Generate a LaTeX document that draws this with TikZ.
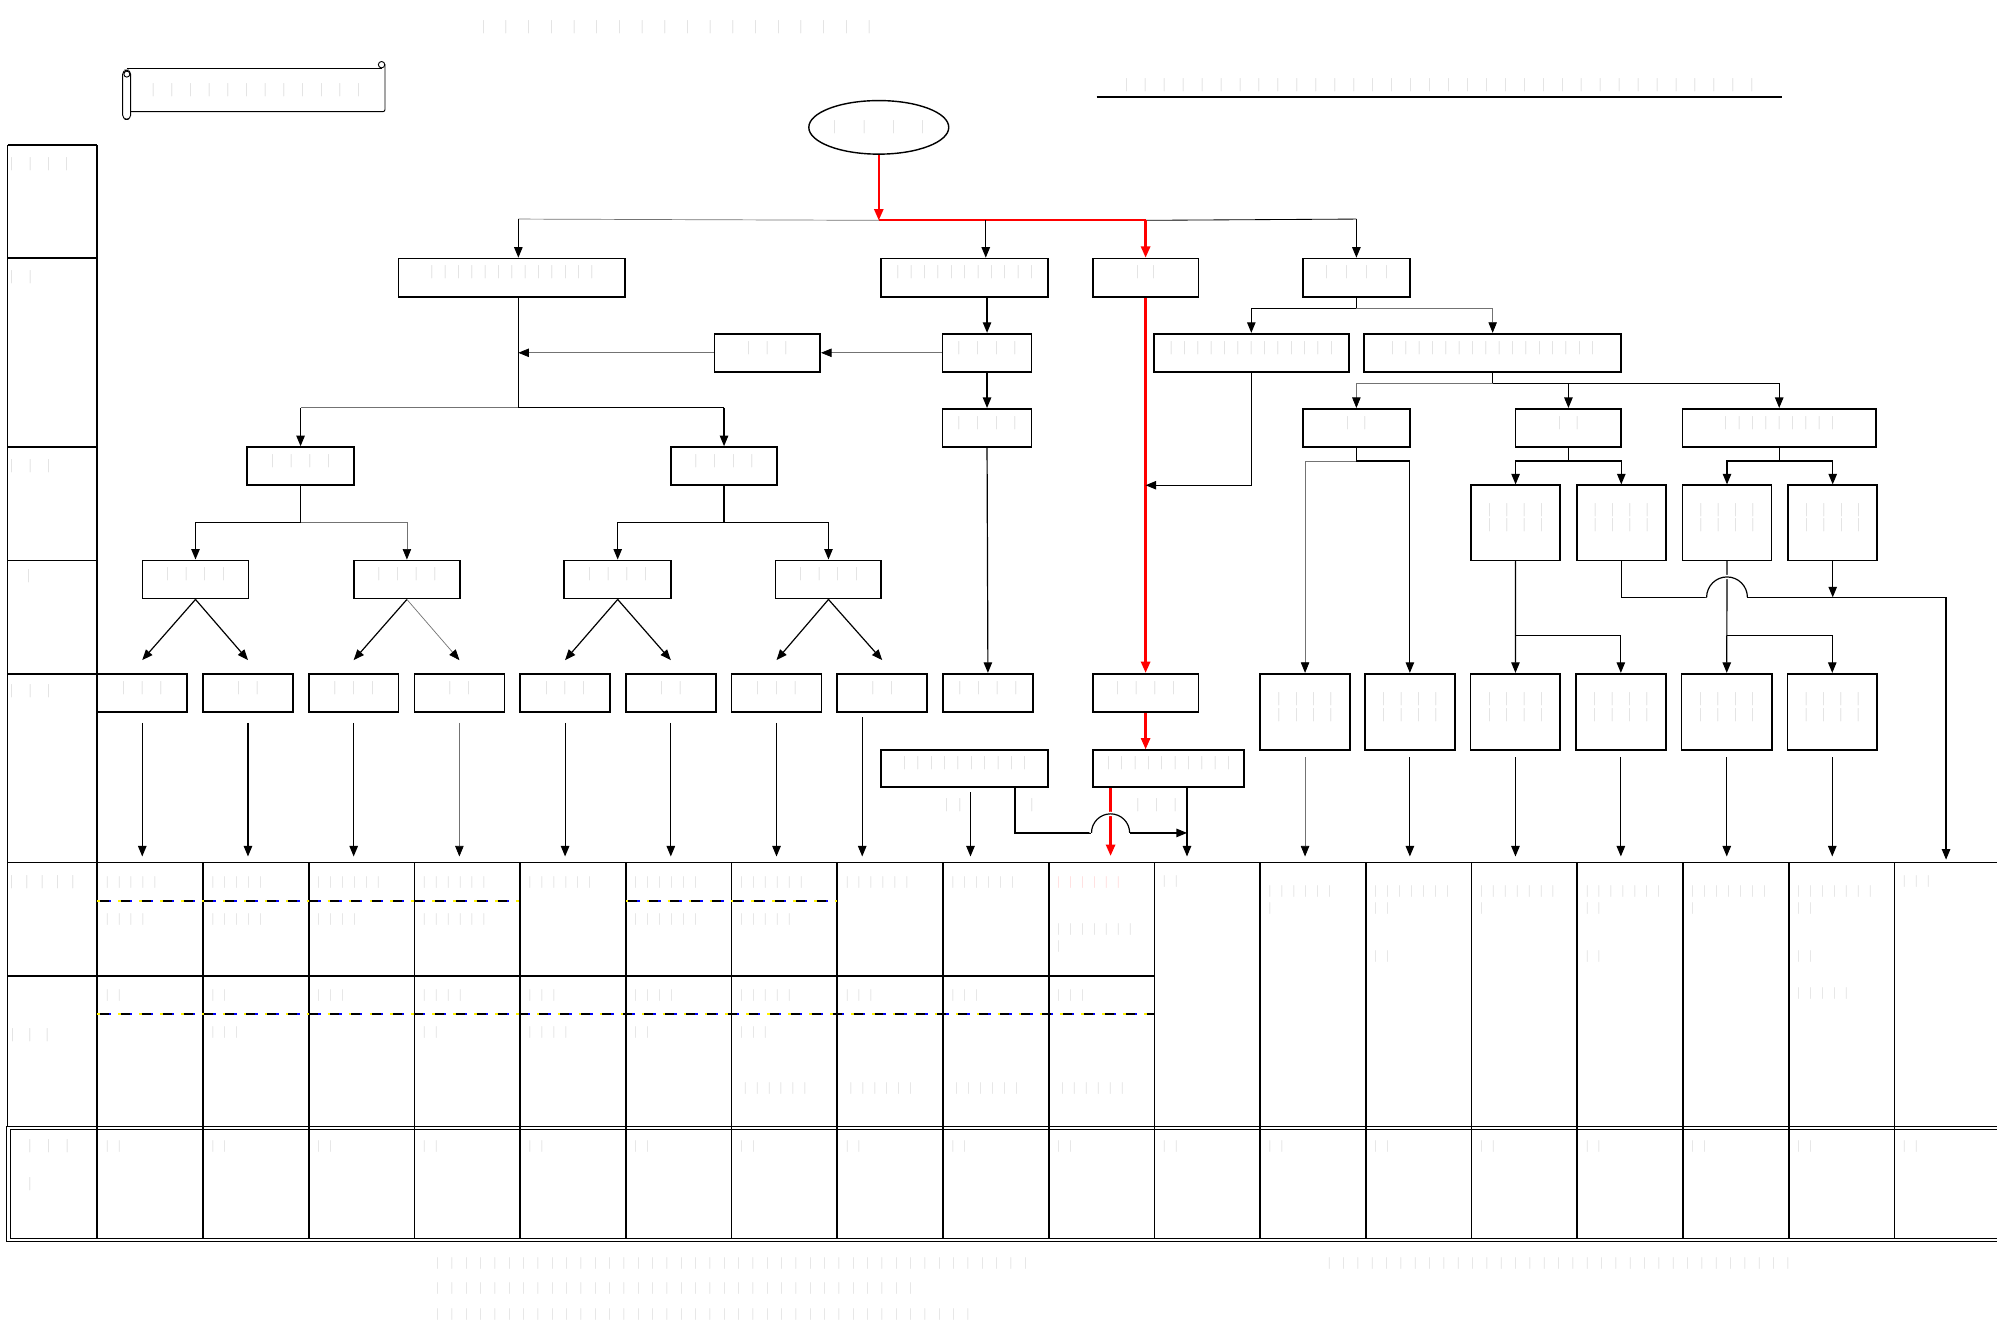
\documentclass[tikz,border=0pt]{standalone}
\usepackage{fontspec}
\usetikzlibrary{arrows.meta,fit,calc,shapes.geometric}
\newcommand\tx[2][1em]{\foreach \kk in {1,...,#2}{\makebox[#1]{|}}}
\definecolor{faint}{gray}{0.8}
\newcommand\bx[6]{\node[box, fit={(#2,#3) (#4,#5)}] (#1) {#6};}
\newcommand\ct[4]{\node[ct] (#1) at (#2,#3) {\tx{#4}};}
\newcommand\tridash[2]{\draw[ydash] #1 -- #2; \draw[bdash] #1 -- #2; \draw[kdash] #1 -- #2;}
\begin{document}
\begin{tikzpicture}[x=0.0637cm,y=-0.0637cm,
  every node/.style={text=faint, font=\fontsize{19}{22}\selectfont},
  box/.style={draw=black, line width=2.4pt, inner sep=0pt, align=center},
  tip/.style={-{Triangle[length=15pt,width=12pt,color=black]}},
  ln/.style={line width=1.7pt},
  gln/.style={line width=1pt, draw=black!55},
  arr/.style={ln, tip},
  garr/.style={gln, tip},
  rln/.style={line width=3.2pt, draw=red},
  rarr/.style={rln, -{Triangle[length=16pt,width=13pt]}},
  grid/.style={line width=2.4pt},
  ct/.style={anchor=west, inner sep=0pt, font=\fontsize{17}{20}\selectfont},
  lt/.style={anchor=west, inner sep=0pt},
  ydash/.style={line width=2.8pt, draw=yellow, dash pattern=on 3.5pt off 26.3pt},
  kdash/.style={line width=2.8pt, draw=black, dash pattern=on 12.8pt off 17pt, dash phase=26.3pt},
  bdash/.style={line width=2.8pt, draw=blue, dash pattern=on 3.5pt off 26.3pt, dash phase=13.5pt},
]
\fill[white] (0,0) rectangle (1568,1047);
\useasboundingbox (0,0) rectangle (1568,1047);

% ---------- header ----------
\node (title) at (531,21) {\tx[1.7em]{18}};
\node (topnote) at (1130,67) {\tx[1.42em]{34}};
\draw[line width=2.8pt] (861,76) -- (1399,76);

% scroll
\draw[line width=1.3pt, rounded corners=2pt] (99.5,53.6) -- (299.6,53.6);
\draw[line width=1.3pt, rounded corners=3pt] (302.3,50.6) -- (302.3,87.7) -- (102.6,87.7);
\draw[line width=1.3pt, rounded corners=6pt, fill=white] (96.3,55) rectangle (102.6,93.7);
\draw[line width=1.3pt] (99.6,58.2) circle[radius=0.15cm];
\draw[line width=1.3pt] (299.6,50.8) circle[radius=0.16cm];
\node (scrolltxt) at (201,71) {\tx[1.4em]{12}};

% root ellipse
\node[draw=black, ellipse, line width=2pt, minimum width=7.0cm, minimum height=2.68cm, inner sep=0pt] (root) at (690,100) {\makebox[0pt]{\tx[2.2em]{4}}};

% ---------- label column and table grid ----------
\draw[grid] (6,114) -- (76.4,114);
\draw[grid] (6,114) -- (6,884.2);
\draw[grid] (76.4,114) -- (76.4,972.3);
\foreach \yy in {202.8,351,440,529} {\draw[grid] (6,\yy) -- (76.4,\yy);}
\draw[grid] (6,677.3) -- (1568,677.3);
\draw[grid] (6,766.4) -- (906.4,766.4);
\foreach \k in {1,...,17} {\draw[grid] ({76.4+83*\k},677.3) -- ({76.4+83*\k},972.3);}
\draw[line width=1.5pt] (5.3,884.2) rectangle (1580,975);
\draw[line width=1.5pt] (7.9,886.9) rectangle (1580,972.3);
\tridash{(76.4,707.5)}{(408.4,707.5)}
\tridash{(491.4,707.5)}{(657.4,707.5)}
\tridash{(76.4,796.4)}{(906.4,796.4)}

% ---------- boxes ----------
\bx{B1}{313}{203}{491}{233}{\tx{13}}
\bx{B2}{692}{203}{823}{233}{\tx{11}}
\bx{B3}{858}{203}{941}{233}{\tx[1.2em]{2}}
\bx{B4}{1023}{203}{1107}{233}{\tx[1.5em]{4}}
\bx{C1}{561}{262}{644}{292}{\tx[1.4em]{3}}
\bx{C2}{740}{262}{810}{292}{\tx[1.4em]{4}}
\bx{C3}{906}{262}{1059}{292}{\tx{13}}
\bx{C4}{1071}{262}{1273}{292}{\tx{16}}
\bx{D1}{740}{321}{810}{351}{\tx[1.4em]{4}}
\bx{F1}{1023}{321}{1107}{351}{\tx[1.3em]{2}}
\bx{F2}{1190}{321}{1273}{351}{\tx[1.3em]{2}}
\bx{F3}{1321}{321}{1473}{351}{\tx{9}}
\bx{E1}{194}{351}{278}{381}{\tx[1.4em]{4}}
\bx{E2}{527}{351}{610}{381}{\tx[1.4em]{4}}
\bx{I1}{1155}{381}{1225}{440}{\tx[1.3em]{4}\\\tx[1.3em]{4}}
\bx{I2}{1238}{381}{1308}{440}{\tx[1.3em]{4}\\\tx[1.3em]{4}}
\bx{I3}{1321}{381}{1391}{440}{\tx[1.3em]{4}\\\tx[1.3em]{4}}
\bx{I4}{1404}{381}{1474}{440}{\tx[1.3em]{4}\\\tx[1.3em]{4}}
\bx{H1}{112}{440}{195}{470}{\tx[1.4em]{4}}
\bx{H2}{278}{440}{361}{470}{\tx[1.4em]{4}}
\bx{H3}{443}{440}{527}{470}{\tx[1.4em]{4}}
\bx{H4}{609}{440}{692}{470}{\tx[1.4em]{4}}
\bx{J1}{76.4}{529}{147}{559}{\tx[1.4em]{3}}
\bx{J2}{159.4}{529}{230}{559}{\tx[1.4em]{2}}
\bx{J3}{242.4}{529}{313}{559}{\tx[1.4em]{3}}
\bx{J4}{325.4}{529}{396}{559}{\tx[1.4em]{2}}
\bx{J5}{408.4}{529}{479}{559}{\tx[1.4em]{3}}
\bx{J6}{491.4}{529}{562}{559}{\tx[1.4em]{2}}
\bx{J7}{574.4}{529}{645}{559}{\tx[1.4em]{3}}
\bx{J8}{657.4}{529}{728}{559}{\tx[1.4em]{2}}
\bx{J9}{740.4}{529}{811}{559}{\tx[1.4em]{4}}
\bx{J10}{858}{529}{941}{559}{\tx[1.4em]{4}}
\bx{K1}{989.4}{529}{1060}{589}{\tx[1.3em]{4}\\\tx[1.3em]{4}}
\bx{K2}{1071.5}{529}{1142.5}{589}{\tx[1.3em]{4}\\\tx[1.3em]{4}}
\bx{K3}{1154.7}{529}{1225.1}{589}{\tx[1.3em]{4}\\\tx[1.3em]{4}}
\bx{K4}{1237.3}{529}{1308}{589}{\tx[1.3em]{4}\\\tx[1.3em]{4}}
\bx{K5}{1320.3}{529}{1391.3}{589}{\tx[1.3em]{4}\\\tx[1.3em]{4}}
\bx{K6}{1403.5}{529}{1473.8}{589}{\tx[1.3em]{4}\\\tx[1.3em]{4}}
\bx{L1}{692}{589}{823}{618}{\tx{10}}
\bx{L2}{858}{589}{977}{618}{\tx{10}}

% ---------- connectors: top ----------
\coordinate (j0) at (690,173);
\coordinate (jl) at (407,172);
\coordinate (jm) at (774,173);
\coordinate (jr) at (899.5,173);
\coordinate (jrr) at (1065,172);
\coordinate (tt) at (0,672.5);
\draw[gln] (j0) -- (jl);
\draw[arr] (jl) -- (jl |- B1.north);
\draw[rln] (j0) -- (jr);
\draw[arr] (jm) -- (jm |- B2.north);
\draw[line width=1.2pt] (jr) -- (jrr);
\draw[arr] (jrr) -- (jrr |- B4.north);
\draw[rarr] (root.south) -- (j0);
\draw[rarr] (jr) -- (B3.north);

% B1 / B2 branch
\draw[arr] (C2.north |- B2.south) -- (C2.north);
\draw[garr] (C2.west) -- (C1.east);
\coordinate (v1) at (407,320);
\draw[ln] (jl |- B1.south) -- (v1);
\draw[garr] (C1.west) -- (C1.west -| v1);
\draw[gln] (v1) -- (v1 -| E1.north);
\draw[ln] (v1) -- (v1 -| E2.north);
\draw[arr] (v1 -| E1.north) -- (E1.north);
\draw[arr] (v1 -| E2.north) -- (E2.north);
\draw[arr] (C2.south) -- (D1.north);
\draw[arr] (D1.south) -- (J9.north);

% red spine
\draw[rarr] (B3.south) -- (J10.north);
\draw[rarr] (J10.south) -- (J10.south |- L2.north);
\draw[arr] (C3.south) |- (B3.south |- 0,381);

% B4 branch
\coordinate (b4j) at (1065,242);
\draw[ln] (B4.south) -- (b4j);
\draw[arr] (b4j) -| (C3.north);
\draw[garr] (b4j) -| (C4.north);
\coordinate (c4j) at (1172,301);
\draw[ln] (C4.south) -- (c4j);
\draw[garr] (c4j) -| (F1.north);
\draw[arr] (c4j) -| (F2.north);
\draw[arr] (c4j) -| (F3.north);
\coordinate (f1j) at (1065,362);
\draw[ln] (F1.south) -- (f1j);
\draw[garr] (f1j) -| (K1.north);
\draw[arr] (f1j) -| (K2.north);
\coordinate (f2j) at (1231.5,362);
\draw[ln] (F2.south) -- (f2j);
\draw[arr] (f2j) -| (I1.north);
\draw[arr] (f2j) -| (I2.north);
\coordinate (f3j) at (1397,362);
\draw[ln] (F3.south) -- (f3j);
\draw[arr] (f3j) -| (I3.north);
\draw[arr] (f3j) -| (I4.north);

% E branches
\coordinate (e1j) at (236,410);
\draw[ln] (E1.south) -- (e1j);
\draw[arr] (e1j) -| (H1.north);
\draw[garr] (e1j) -| (H2.north);
\coordinate (e2j) at (568.5,410);
\draw[ln] (E2.south) -- (e2j);
\draw[arr] (e2j) -| (H3.north);
\draw[arr] (e2j) -| (H4.north);

% H diagonals
\draw[arr] (H1.south) -- ([yshift=0.64cm]J1.north);
\draw[arr] (H1.south) -- ([yshift=0.64cm]J2.north);
\draw[arr] (H2.south) -- ([yshift=0.64cm]J3.north);
\draw[garr] (H2.south) -- ([yshift=0.64cm]J4.north);
\draw[arr] (H3.south) -- ([yshift=0.64cm]J5.north);
\draw[arr] (H3.south) -- ([yshift=0.64cm]J6.north);
\draw[arr] (H4.south) -- ([yshift=0.64cm]J7.north);
\draw[arr] (H4.south) -- ([yshift=0.64cm]J8.north);

% I -> K
\draw[arr] (I1.south) -- (K3.north);
\coordinate (i1j) at (1190,499);
\draw[arr] (i1j) -| (K4.north);
\draw[arr] (I3.south) -- (K5.north);
\coordinate (i3j) at (1356,499);
\draw[arr] (i3j) -| (K6.north);
\coordinate (br1) at (1340,469);
\coordinate (br2) at (1372,469);
\coordinate (lg) at (1528,469);
\coordinate (lgb) at (1528,675);
\draw[ln] (I2.south) |- (br1);
\draw[white, line width=6pt] (br1) arc[start angle=180, end angle=0, radius=1.02cm];
\draw[ln] (br1) arc[start angle=180, end angle=0, radius=1.02cm];
\draw[ln] (br2) -- (lg);
\draw[arr] (lg) -- (lgb);
\draw[arr] (I4.south) -- (I4.south |- br2);

% L1 / L2
\coordinate (l1a) at (797,654);
\coordinate (lb1) at (857,654);
\coordinate (lb2) at (887,654);
\coordinate (l2r) at (932,654);
\coordinate (rx) at (872,672);
\draw[rarr] (L2.south -| rx) -- (rx);
\draw[ln] (L1.south -| l1a) -- (l1a) -- (lb1);
\draw[white, line width=6pt] (lb1) arc[start angle=180, end angle=0, radius=0.955cm];
\draw[ln] (lb1) arc[start angle=180, end angle=0, radius=0.955cm];
\draw[arr] (lb2) -- (l2r);
\draw[arr] (L2.south -| l2r) -- (l2r |- tt);
\coordinate (l1o) at (762,622);
\draw[arr] (l1o) -- (l1o |- tt);
\node[lt] (l1note) at (738,632) {\tx[1.0em]{2}};
\node[lt] (l1note2) at (805,632) {\tx{1}};
\node[lt] (l2note) at (886,632) {\tx[1.4em]{3}};

% into table
\draw[arr] ([yshift=-0.5cm]J1.south) -- (J1.south |- tt);
\draw[arr] ([yshift=-0.5cm]J2.south) -- (J2.south |- tt);
\draw[arr] ([yshift=-0.5cm]J3.south) -- (J3.south |- tt);
\draw[garr] ([yshift=-0.5cm]J4.south) -- (J4.south |- tt);
\draw[arr] ([yshift=-0.5cm]J5.south) -- (J5.south |- tt);
\draw[arr] ([yshift=-0.5cm]J6.south) -- (J6.south |- tt);
\draw[arr] ([yshift=-0.5cm]J7.south) -- (J7.south |- tt);
\coordinate (j8o) at (677,563);
\draw[arr] (j8o) -- (j8o |- tt);
\draw[garr] ([yshift=-0.32cm]K1.south) -- (K1.south |- tt);
\draw[arr] ([yshift=-0.32cm]K2.south) -- (K2.south |- tt);
\draw[arr] ([yshift=-0.32cm]K3.south) -- (K3.south |- tt);
\draw[arr] ([yshift=-0.32cm]K4.south) -- (K4.south |- tt);
\draw[arr] ([yshift=-0.32cm]K5.south) -- (K5.south |- tt);
\draw[arr] ([yshift=-0.32cm]K6.south) -- (K6.south |- tt);

% ---------- label column texts ----------
\node[lt] (r1) at (2,129) {\tx[1.37em]{4}};
\node[lt] (r2) at (2,218) {\tx[1.37em]{2}};
\node[lt] (r3) at (2,366) {\tx[1.37em]{3}};
\node[lt] (r4) at (15,452) {\tx[1.37em]{1}};
\node[lt] (r5) at (2,543) {\tx[1.37em]{3}};
\node[lt] (r6) at (3,693) {\tx[1.15em]{5}};
\node[lt] (r7) at (3,813) {\tx[1.3em]{3}};
\node[lt] (r8) at (16,900) {\tx[1.4em]{3}};
\node[lt] (r9) at (16,930) {\tx[1.4em]{1}};

% ---------- table texts: row A ----------
\ct{a1}{79.4}{693}{5}
\ct{a2}{162.4}{693}{5}
\ct{a3}{245.4}{693}{6}
\ct{a4}{328.4}{693}{6}
\ct{a5}{411.4}{693}{6}
\ct{a6}{494.4}{693}{6}
\ct{a7}{577.4}{693}{6}
\ct{a8}{660.4}{693}{6}
\ct{a9}{743.4}{693}{6}
\node[ct, text=red!25] (a10) at (826.4,693) {\tx{6}};
\ct{a11}{909.4}{692}{2}
\ct{a12}{992.4}{700}{6}
\ct{a13}{1075.4}{700}{7}
\ct{a14}{1158.4}{700}{7}
\ct{a15}{1241.4}{700}{7}
\ct{a16}{1324.4}{700}{7}
\ct{a17}{1407.4}{700}{7}
\ct{a18}{1490.4}{692}{3}
\ct{aa1}{79.4}{722}{4}
\ct{aa2}{162.4}{722}{5}
\ct{aa3}{245.4}{722}{4}
\ct{aa4}{328.4}{722}{6}
\ct{aa6}{494.4}{722}{6}
\ct{aa7}{577.4}{722}{5}
\ct{aa10}{826.4}{730}{7}
\ct{ab10}{826.4}{743}{1}
\ct{aa12}{992.4}{713}{1}
\ct{aa13}{1075.4}{713}{2}
\ct{ab13}{1075.4}{751}{2}
\ct{aa14}{1158.4}{713}{1}
\ct{aa15}{1241.4}{713}{2}
\ct{ab15}{1241.4}{751}{2}
\ct{aa16}{1324.4}{713}{1}
\ct{aa17}{1407.4}{713}{2}
\ct{ab17}{1407.4}{751}{2}
\ct{ac17}{1407.4}{780}{5}

% ---------- row B ----------
\ct{b1}{79.4}{782}{2}
\ct{b2}{162.4}{782}{2}
\ct{b3}{245.4}{782}{3}
\ct{b4}{328.4}{782}{4}
\ct{b5}{411.4}{782}{3}
\ct{b6}{494.4}{782}{4}
\ct{b7}{577.4}{782}{5}
\ct{b8}{660.4}{782}{3}
\ct{b9}{743.4}{782}{3}
\ct{b10}{826.4}{782}{3}
\ct{bb2}{162.4}{811}{3}
\ct{bb4}{328.4}{811}{2}
\ct{bb5}{411.4}{811}{4}
\ct{bb6}{494.4}{811}{2}
\ct{bb7}{577.4}{811}{3}
\ct{bc7}{580.4}{855}{6}
\ct{bc8}{663.4}{855}{6}
\ct{bc9}{746.4}{855}{6}
\ct{bc10}{829.4}{855}{6}

% ---------- row C ----------
\foreach \k in {1,...,18} {\node[ct] (c\k) at ({79.4+83*(\k-1)},900) {\tx{2}};}

% ---------- bottom notes ----------
\node[lt, font=\fontsize{17}{20}\selectfont] (n1) at (338,992) {\tx[1.2em]{42}};
\node[lt, font=\fontsize{17}{20}\selectfont] (n2) at (338,1012) {\tx[1.2em]{34}};
\node[lt, font=\fontsize{17}{20}\selectfont] (n3) at (338,1032) {\tx[1.2em]{38}};
\node[lt, font=\fontsize{17}{20}\selectfont] (n4) at (1038,992) {\tx[1.2em]{33}};
\end{tikzpicture}
\end{document}
